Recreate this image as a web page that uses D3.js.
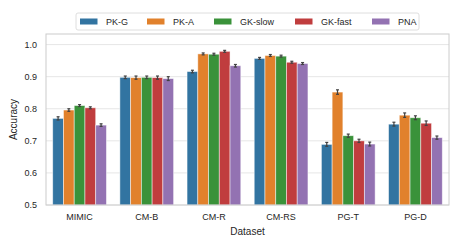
<!DOCTYPE html>
<html>
<head>
<meta charset="utf-8">
<script src="https://cdn.jsdelivr.net/npm/d3@7"></script>
<style>
  body { margin: 0; background: #fff; }
  text { font-family: "Liberation Sans", Arial, sans-serif; fill: #262626; }
</style>
</head>
<body>
<svg id="chart" width="460" height="249"></svg>
<script>
const datasets = ["MIMIC", "CM-B", "CM-R", "CM-RS", "PG-T", "PG-D"];
const methods = ["PK-G", "PK-A", "GK-slow", "GK-fast", "PNA"];
const colors = ["#3274a1", "#e1812c", "#3a923a", "#c03d3e", "#9372b2"];
// accuracy per method, one value per dataset
const pkG    = [0.770, 0.898, 0.916, 0.957, 0.689, 0.752];
const pkA    = [0.796, 0.897, 0.971, 0.966, 0.852, 0.780];
const gkSlow = [0.810, 0.898, 0.970, 0.964, 0.716, 0.772];
const gkFast = [0.803, 0.897, 0.979, 0.945, 0.700, 0.755];
const pna    = [0.749, 0.894, 0.934, 0.941, 0.690, 0.710];
// error bar half widths
const errG    = [0.005, 0.004, 0.004, 0.003, 0.006, 0.006];
const errA    = [0.004, 0.005, 0.003, 0.003, 0.007, 0.007];
const errSlow = [0.003, 0.004, 0.003, 0.003, 0.005, 0.006];
const errFast = [0.003, 0.005, 0.003, 0.003, 0.005, 0.007];
const errPna  = [0.004, 0.006, 0.004, 0.003, 0.006, 0.005];
const yTicks = [0.5, 0.6, 0.7, 0.8, 0.9, 1.0];

const values = [pkG, pkA, gkSlow, gkFast, pna];
const errs = [errG, errA, errSlow, errFast, errPna];

const svg = d3.select("#chart");
const m = { left: 46, right: 11, top: 34, bottom: 44 };
const W = 460, H = 249;

const x = d3.scaleBand().domain(datasets).range([m.left, W - m.right]).paddingInner(0.2).paddingOuter(0.1);
const xm = d3.scaleBand().domain(methods).range([0, x.bandwidth()]);
const y = d3.scaleLinear().domain([0.5, 1.033]).range([H - m.bottom, m.top]);

// grid
svg.append("g")
  .selectAll("line")
  .data(yTicks)
  .join("line")
    .attr("x1", m.left).attr("x2", W - m.right)
    .attr("y1", d => y(d)).attr("y2", d => y(d))
    .attr("stroke", "#e6e6e6").attr("stroke-width", 1);

const rows = [];
methods.forEach((me, j) => {
  datasets.forEach((ds, i) => {
    rows.push({ ds: ds, me: me, j: j, v: values[j][i], e: errs[j][i] });
  });
});

svg.append("g")
  .selectAll("rect")
  .data(rows)
  .join("rect")
    .attr("x", d => x(d.ds) + xm(d.me))
    .attr("width", xm.bandwidth())
    .attr("y", d => y(d.v))
    .attr("height", d => y(0.5) - y(d.v))
    .attr("fill", d => colors[d.j])
    .attr("stroke", "#ffffff").attr("stroke-opacity", 0.6).attr("stroke-width", 0.8);

const eb = svg.append("g").attr("stroke", "#424242").attr("stroke-width", 1.2);
rows.forEach(d => {
  const cx = x(d.ds) + xm(d.me) + xm.bandwidth() / 2;
  eb.append("line").attr("x1", cx).attr("x2", cx).attr("y1", y(d.v - d.e)).attr("y2", y(d.v + d.e));
  eb.append("line").attr("x1", cx - 1.5).attr("x2", cx + 1.5).attr("y1", y(d.v - d.e)).attr("y2", y(d.v - d.e));
  eb.append("line").attr("x1", cx - 1.5).attr("x2", cx + 1.5).attr("y1", y(d.v + d.e)).attr("y2", y(d.v + d.e));
});

// frame
svg.append("rect")
  .attr("x", m.left).attr("y", m.top)
  .attr("width", W - m.right - m.left).attr("height", H - m.bottom - m.top)
  .attr("fill", "none").attr("stroke", "#cccccc").attr("stroke-width", 1);

// axes
const yAxis = svg.append("g")
  .attr("transform", "translate(" + m.left + ",0)")
  .call(d3.axisLeft(y).tickValues(yTicks).tickFormat(d3.format(".1f")).tickSize(0).tickPadding(9));
yAxis.select(".domain").remove();
yAxis.selectAll("text").attr("font-size", 9).style("fill", "#262626");

const xAxis = svg.append("g")
  .attr("transform", "translate(0," + (H - m.bottom) + ")")
  .call(d3.axisBottom(x).tickSize(0).tickPadding(9));
xAxis.select(".domain").remove();
xAxis.selectAll("text").attr("font-size", 9).style("fill", "#262626");

svg.append("text")
  .attr("x", (m.left + W - m.right) / 2).attr("y", 235)
  .attr("text-anchor", "middle").attr("font-size", 10)
  .text("Dataset");

svg.append("text")
  .attr("transform", "translate(17," + ((m.top + H - m.bottom) / 2) + ") rotate(-90)")
  .attr("text-anchor", "middle").attr("font-size", 10)
  .text("Accuracy");

// legend
const legendX = [80, 147, 214, 295, 372];
const lg = svg.append("g");
lg.append("rect")
  .attr("x", 76).attr("y", 13).attr("width", 343).attr("height", 17).attr("rx", 2)
  .attr("fill", "#fff").attr("stroke", "#d6d6d6").attr("stroke-width", 0.8);
methods.forEach((me, j) => {
  lg.append("rect").attr("x", legendX[j]).attr("y", 18.5).attr("width", 17.5).attr("height", 6)
    .attr("fill", colors[j]);
  lg.append("text").attr("x", legendX[j] + 26).attr("y", 24.5).attr("font-size", 9).text(me);
});
</script>
</body>
</html>
